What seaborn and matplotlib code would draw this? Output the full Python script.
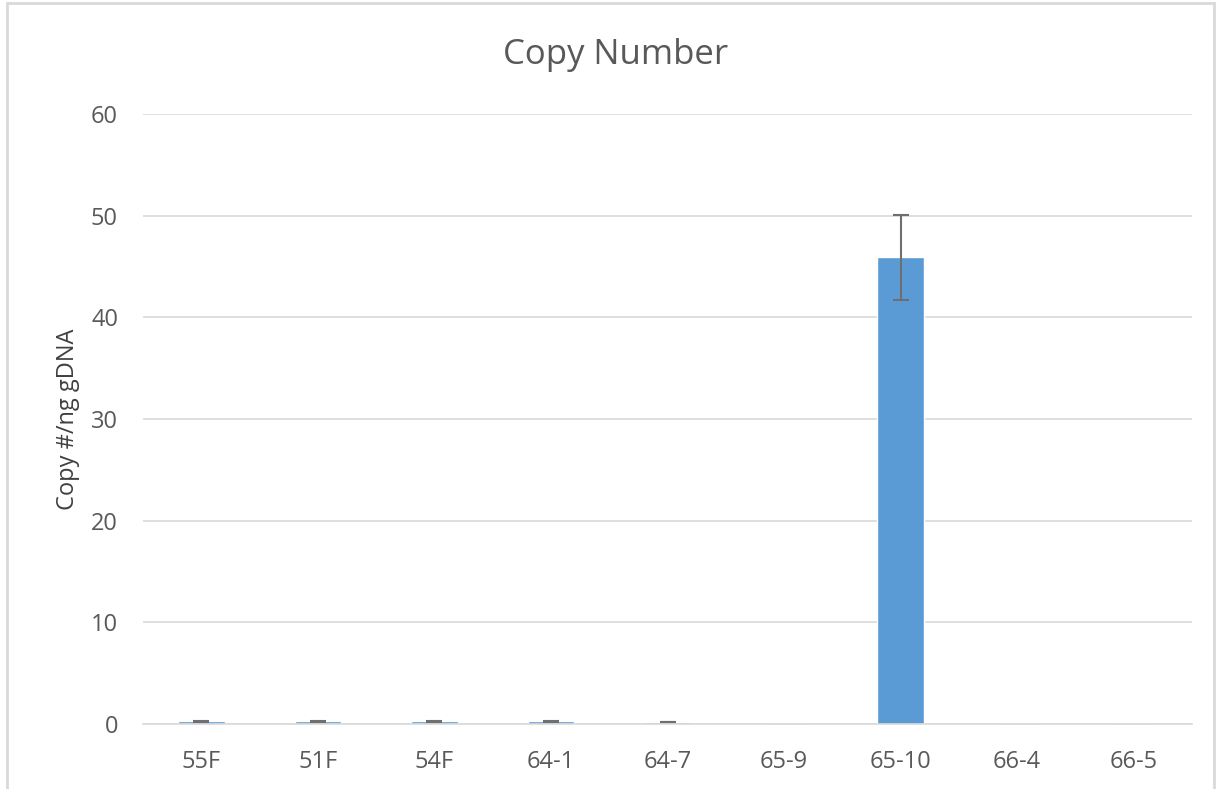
import matplotlib
matplotlib.use("Agg")
import matplotlib.pyplot as plt
import seaborn as sns
import pandas as pd
from matplotlib.patches import Rectangle

categories = ["55F", "51F", "54F", "64-1", "64-7", "65-9", "65-10", "66-4", "66-5"]
values = [0.25, 0.25, 0.25, 0.25, 0.2, 0.0, 45.9, 0.0, 0.0]
errors = [0.05, 0.05, 0.05, 0.05, 0.02, 0.0, 4.2, 0.0, 0.0]

df = pd.DataFrame({"sample": categories, "copies": values, "err": errors})
df["pos"] = range(len(categories))

sns.set_theme(style="white")
plt.rcParams["font.family"] = ["Open Sans", "DejaVu Sans"]

text_color = "#595959"
bar_color = "#5B9BD5"

fig = plt.figure(figsize=(12.22, 7.89), dpi=100)
ax = fig.add_axes([143/1222, 1 - 724/789, (1192-143)/1222, (724-114)/789])

sns.barplot(data=df, x="sample", y="copies", color=bar_color, width=0.4,
            errorbar=None, ax=ax, saturation=1)
eb = df[df["err"] > 0]
ax.errorbar(x=eb["pos"], y=eb["copies"], yerr=eb["err"],
            fmt="none", ecolor="#6f6f6f", elinewidth=1.5, capsize=5.5, capthick=1.5)

ax.set_ylim(0, 60)
ax.set_xlim(-0.5, len(categories) - 0.5)
ax.set_yticks(range(0, 61, 10))
ax.yaxis.grid(True, color="#d9d9d9", linewidth=1.2)
ax.set_axisbelow(True)
for s in ["top", "right", "left"]:
    ax.spines[s].set_visible(False)
ax.spines["bottom"].set_color("#d9d9d9")
ax.spines["bottom"].set_linewidth(1.2)
ax.tick_params(axis="both", length=0, labelsize=17, colors=text_color)
ax.tick_params(axis="y", pad=18)
ax.tick_params(axis="x", pad=19)
ax.set_xlabel("")
ax.set_ylabel("Copy #/ng gDNA", fontsize=17, color="#404040", labelpad=8)
fig.text(616/1222, 1 - 55/789, "Copy Number", fontsize=25, color=text_color,
         ha="center", va="center")

fig.patches.append(Rectangle((7/1222, -0.01), (1214-7)/1222, 1 - 3/789 + 0.01,
                             transform=fig.transFigure, fill=False,
                             edgecolor="#d9d9d9", linewidth=2))

fig.savefig("out.png", dpi=100)
